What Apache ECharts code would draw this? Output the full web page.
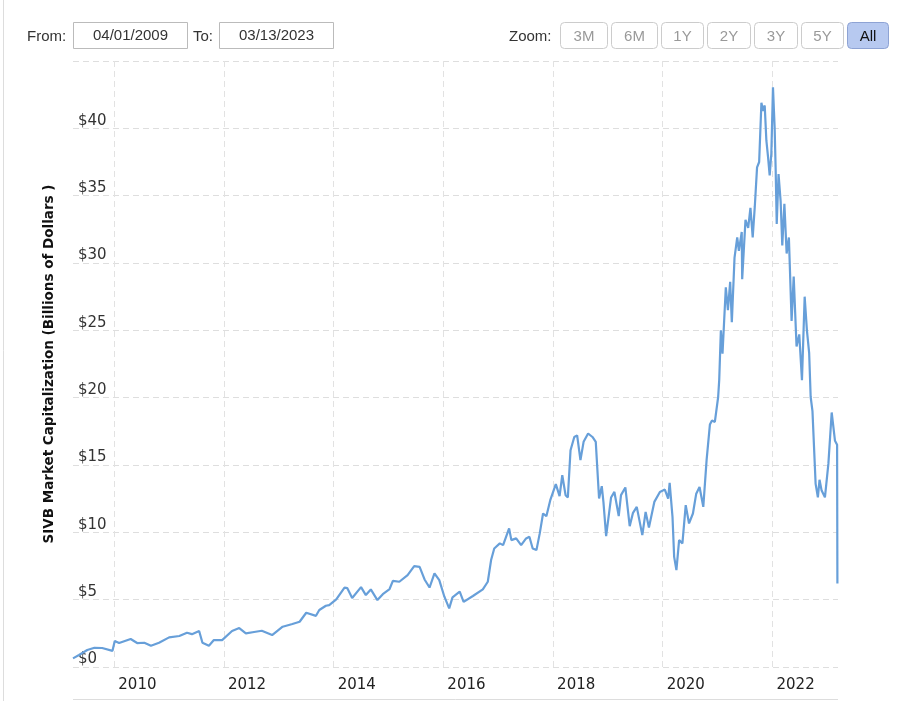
<!DOCTYPE html>
<html>
<head>
<meta charset="utf-8">
<script src="https://cdn.jsdelivr.net/npm/echarts@6/dist/echarts.min.js"></script>
<style>
	html, body { margin: 0; padding: 0; background: #fff; }
	#main { width: 900px; height: 701px; }
</style>
</head>
<body>
<div id="main"></div>
<script>
// SIVB market cap, billions of dollars
var dates = [
	'2009-04-01', '2009-05-11', '2009-07-05', '2009-08-22', '2009-10-12', '2009-12-20',
	'2010-01-04', '2010-02-02', '2010-04-20', '2010-06-02', '2010-07-20', '2010-09-02', '2010-10-26',
	'2011-01-01', '2011-03-10', '2011-04-30', '2011-06-02', '2011-07-20', '2011-08-11', '2011-09-23', '2011-10-26', '2011-12-20',
	'2012-02-24', '2012-04-12', '2012-05-26', '2012-07-20', '2012-09-09', '2012-11-17',
	'2013-01-26', '2013-04-01', '2013-05-19', '2013-07-02', '2013-09-05', '2013-09-27', '2013-11-10', '2013-12-02',
	'2014-01-18', '2014-03-14', '2014-04-01', '2014-05-04', '2014-07-02', '2014-08-03', '2014-09-05', '2014-10-19', '2014-11-24',
	'2015-01-08', '2015-01-30', '2015-03-14', '2015-05-08', '2015-06-21', '2015-07-27', '2015-08-29', '2015-10-01', '2015-11-03', '2015-12-05',
	'2016-01-08', '2016-02-09', '2016-03-02', '2016-04-19', '2016-05-15', '2016-07-16', '2016-09-20', '2016-10-23', '2016-11-14', '2016-12-05',
	'2017-01-11', '2017-02-02', '2017-03-14', '2017-03-29', '2017-04-30', '2017-06-02', '2017-07-05', '2017-07-27', '2017-08-18', '2017-09-12',
	'2017-10-04', '2017-10-26', '2017-11-17', '2017-12-13',
	'2018-01-19', '2018-02-13', '2018-03-03', '2018-03-25', '2018-04-09', '2018-04-27', '2018-05-22', '2018-06-10', '2018-07-02', '2018-07-23',
	'2018-08-22', '2018-09-20', '2018-10-12', '2018-11-03', '2018-11-21', '2018-12-02', '2018-12-20',
	'2019-01-22', '2019-02-13', '2019-03-14', '2019-03-29', '2019-04-27', '2019-05-26', '2019-06-17', '2019-07-12', '2019-08-18', '2019-09-09',
	'2019-10-01', '2019-11-06', '2019-12-13',
	'2020-01-15', '2020-02-06', '2020-02-16', '2020-03-06', '2020-03-17', '2020-04-01', '2020-04-19', '2020-05-11', '2020-06-02', '2020-06-24',
	'2020-07-20', '2020-08-11', '2020-09-02', '2020-09-27', '2020-10-19', '2020-11-10', '2020-11-24', '2020-12-13',
	'2021-01-04', '2021-01-11', '2021-01-22', '2021-02-02', '2021-02-24', '2021-03-10', '2021-03-25', '2021-04-05', '2021-04-23', '2021-05-11',
	'2021-05-22', '2021-06-10', '2021-06-13', '2021-07-05', '2021-07-23', '2021-08-07', '2021-08-22', '2021-09-05', '2021-09-20', '2021-10-04',
	'2021-10-19', '2021-10-30', '2021-11-10', '2021-11-21', '2021-12-02', '2021-12-13', '2021-12-24',
	'2022-01-04', '2022-01-15', '2022-01-22', '2022-01-29', '2022-02-10', '2022-02-24', '2022-03-07', '2022-03-21', '2022-04-05', '2022-04-20',
	'2022-05-08', '2022-05-22', '2022-06-10', '2022-06-28', '2022-07-16', '2022-08-03', '2022-08-18', '2022-09-02', '2022-09-12', '2022-09-24',
	'2022-10-15', '2022-10-30', '2022-11-10', '2022-11-24', '2022-12-16',
	'2023-01-08', '2023-01-30', '2023-02-21', '2023-03-07', '2023-03-09'
];
var marketCap = [
	0.64, 0.89, 1.26, 1.43, 1.41, 1.2,
	1.93, 1.78, 2.08, 1.78, 1.8, 1.58, 1.8,
	2.2, 2.3, 2.54, 2.44, 2.67, 1.8, 1.58, 2.0, 2.0,
	2.67, 2.89, 2.5, 2.6, 2.69, 2.37,
	2.99, 3.19, 3.36, 4.03, 3.8, 4.23, 4.55, 4.6,
	5.02, 5.9, 5.86, 5.12, 5.93, 5.34, 5.76, 4.97, 5.41,
	5.79, 6.4, 6.33, 6.82, 7.49, 7.44, 6.5, 5.9, 6.95, 6.45,
	5.22, 4.35, 5.17, 5.59, 4.84, 5.27, 5.76, 6.33, 7.94, 8.8,
	9.18, 9.05, 10.29, 9.42, 9.55, 9.05, 9.55, 9.67, 8.8, 8.68,
	9.92, 11.4, 11.2, 12.39,
	13.58, 12.69, 14.24, 12.76, 12.59, 16.1, 17.08, 17.2, 15.36, 16.72,
	17.34, 17.08, 16.72, 12.51, 13.43, 12.26, 9.72,
	12.59, 13.0, 11.2, 12.76, 13.33, 10.46, 11.45, 11.89, 9.79, 11.52,
	10.36, 12.26, 13.0,
	13.18, 12.51, 13.67, 11.15, 8.18, 7.2, 9.42, 9.18, 12.02, 10.66,
	11.4, 12.87, 13.37, 11.89, 15.36, 18.0, 18.3, 18.2,
	20.05, 21.3, 25.0, 23.27, 28.2, 26.5, 28.6, 25.6, 30.4, 31.9,
	30.9, 32.3, 28.8, 33.2, 32.6, 34.1, 31.9, 34.2, 37.1, 37.5,
	41.9, 41.3, 41.7, 39.1, 37.9, 36.5, 38.1,
	43.05, 40.1, 36.9, 32.9, 36.6, 34.6, 31.3, 34.4, 30.7, 31.9,
	25.7, 29.0, 23.8, 24.7, 21.3, 27.5, 25.0, 23.3, 20.05, 19.0,
	13.6, 12.6, 13.9, 13.1, 12.6,
	15.1, 18.9, 16.8, 16.5, 6.2
];
var yearTicks = [2010, 2012, 2014, 2016, 2018, 2020, 2022];
var zoomButtons = ['3M', '6M', '1Y', '2Y', '3Y', '5Y', 'All'];
var rangeFrom = '04/01/2009';
var rangeTo = '03/13/2023';

(function() {
	var myChart = echarts.init(document.getElementById('main'));

	var toTime = function(s) {
		var p = s.split('-');
		return Date.UTC(+p[0], +p[1] - 1, +p[2]);
	};
	var seriesData = dates.map(function(d, i) {
		return [toTime(d), marketCap[i]];
	});
	var tickValues = yearTicks.map(function(y) {
		return Date.UTC(y, 0, 1);
	});

	var FONT = '15px "Liberation Sans", Arial, sans-serif';
	var graphics = [];
	var box = function(x, w, fill, stroke, r) {
		return {
			type: 'rect',
			shape: { x: x, y: 22.5, width: w, height: 26, r: r },
			style: { fill: fill, stroke: stroke, lineWidth: 1 },
			silent: true
		};
	};
	var label = function(x, y, s, color, align) {
		return {
			type: 'text',
			x: x, y: y,
			style: { text: s, fill: color, font: FONT, align: align, verticalAlign: 'middle' },
			silent: true
		};
	};

	// range selector on top
	graphics.push(label(27, 36.5, 'From:', '#333', 'left'));
	graphics.push(box(73.5, 114, '#fff', '#bbb', 0));
	graphics.push(label(130.5, 36, rangeFrom, '#333', 'center'));
	graphics.push(label(193, 36.5, 'To:', '#333', 'left'));
	graphics.push(box(219.5, 114, '#fff', '#bbb', 0));
	graphics.push(label(276.5, 36, rangeTo, '#333', 'center'));
	graphics.push(label(509, 37, 'Zoom:', '#333', 'left'));

	var btnX = [560, 611, 661, 707, 754, 801, 847];
	var btnW = [47, 46, 42, 43, 43, 42, 41];
	zoomButtons.forEach(function(b, i) {
		var active = b === 'All';
		graphics.push(box(btnX[i] + 0.5, btnW[i], active ? '#b7c9f0' : '#fff', active ? '#8ea3d4' : '#ccc', 4));
		graphics.push(label(btnX[i] + btnW[i] / 2 + 0.5, 36.5, b, active ? '#111' : '#999', 'center'));
	});

	// frame lines
	graphics.push({
		type: 'line',
		shape: { x1: 3.5, y1: 0, x2: 3.5, y2: 701 },
		style: { stroke: '#ddd', lineWidth: 1 },
		silent: true
	});
	graphics.push({
		type: 'line',
		shape: { x1: 73, y1: 699.5, x2: 838, y2: 699.5 },
		style: { stroke: '#ddd', lineWidth: 1 },
		silent: true
	});

	option = {
		animation: false,
		backgroundColor: '#fff',
		grid: {
			left: 73,
			right: 62,
			top: 61,
			bottom: 34
		},
		xAxis: {
			type: 'value',
			min: toTime('2009-04-01'),
			max: toTime('2023-03-13'),
			axisLine: { show: false },
			axisTick: { show: false, customValues: tickValues },
			axisLabel: {
				customValues: tickValues,
				formatter: function(v) {
					return new Date(v).getUTCFullYear() + '';
				},
				align: 'left',
				padding: [0, 0, 0, 4],
				margin: 11,
				color: '#222',
				fontFamily: '"DejaVu Sans", Verdana, sans-serif',
				fontSize: 15
			},
			splitLine: {
				show: true,
				lineStyle: { color: '#e2e2e2', type: [6, 4], width: 1 }
			}
		},
		yAxis: {
			type: 'value',
			min: 0,
			max: 45,
			interval: 5,
			name: 'SIVB Market Capitalization (Billions of Dollars )',
			nameLocation: 'middle',
			nameGap: 17,
			nameTextStyle: {
				fontFamily: '"DejaVu Sans", Verdana, sans-serif',
				fontWeight: 'bold',
				fontSize: 13.5,
				color: '#111'
			},
			axisLine: { show: false },
			axisTick: { show: false },
			axisLabel: {
				inside: true,
				margin: 5,
				verticalAlign: 'bottom',
				showMaxLabel: false,
				formatter: '${value}',
				color: '#333',
				fontFamily: '"DejaVu Sans", Verdana, sans-serif',
				fontSize: 15
			},
			splitLine: {
				lineStyle: { color: '#dedede', type: [6, 4], width: 1 }
			}
		},
		series: [{
			name: 'SIVB',
			type: 'line',
			data: seriesData,
			showSymbol: false,
			lineStyle: { color: '#679fd9', width: 2.2 },
			z: 3
		}],
		graphic: graphics
	};

	myChart.setOption(option);
})();
</script>
</body>
</html>
